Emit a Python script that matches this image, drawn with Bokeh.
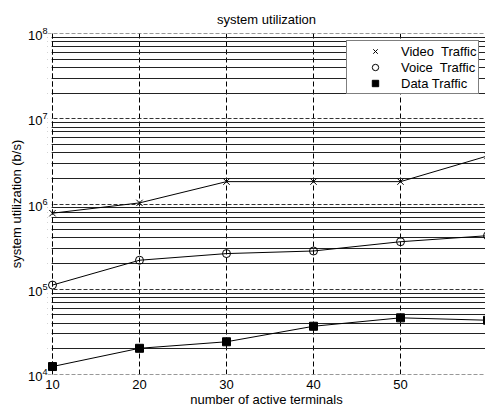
from bokeh.plotting import figure
from bokeh.models import (Range1d, FixedTicker, Grid, Legend, LegendItem, Label,
                          BoxAnnotation, Span)
from bokeh.embed import file_html
from bokeh.resources import INLINE

# ---- data ----
terminals = [10, 20, 30, 40, 50, 60]
video_traffic = [7.8e5, 1.03e6, 1.83e6, 1.83e6, 1.83e6, 3.66e6]
voice_traffic = [1.12e5, 2.19e5, 2.62e5, 2.81e5, 3.61e5, 4.25e5]
data_traffic = [1.24e4, 2.03e4, 2.42e4, 3.68e4, 4.62e4, 4.33e4]

x_ticks = [10, 20, 30, 40, 50, 60]
y_decades = [1e4, 1e5, 1e6, 1e7, 1e8]
y_minor = [m * 10 ** e for e in range(4, 8) for m in range(2, 10)]

FONT = "'Liberation Sans', Arial, Helvetica, sans-serif"
FS = "13px"

X_START = 10 - 5 / 8.7   # small margin left of x=10 so edge markers are not cut
X_END = 10 + 433 / 8.7

p = figure(width=485, height=409, output_backend="svg", toolbar_location=None,
           y_axis_type="log", x_range=Range1d(X_START, X_END),
           y_range=Range1d(y_decades[0], y_decades[-1]),
           min_border_left=47, min_border_right=0, min_border_top=33, min_border_bottom=35,
           title="system utilization")
p.outline_line_color = None
p.background_fill_color = "white"
p.border_fill_color = "white"

p.title.align = "center"
p.title.text_font = FONT
p.title.text_font_size = FS
p.title.text_font_style = "normal"
p.title.text_color = "black"
p.title.standoff = 14
p.title.offset = 2

for ax in (p.xaxis, p.yaxis):
    ax.axis_line_color = None
    ax.major_tick_line_color = None
    ax.minor_tick_line_color = None
    ax.major_tick_out = 0
    ax.major_tick_in = 0
    ax.major_label_text_font = FONT
    ax.major_label_text_font_size = FS
    ax.major_label_text_color = "black"
    ax.axis_label_text_font = FONT
    ax.axis_label_text_font_size = FS
    ax.axis_label_text_font_style = "normal"
    ax.axis_label_text_color = "black"

p.xaxis.ticker = FixedTicker(ticks=x_ticks)
p.yaxis.ticker = FixedTicker(ticks=y_decades)
p.xaxis.major_label_standoff = 5
p.yaxis.major_label_standoff = 0
p.xaxis.axis_label = "number of active terminals"
p.yaxis.axis_label = "system utilization (b/s)"
p.xaxis.axis_label_standoff = 0
p.yaxis.axis_label_standoff = 1

# major dashed grid
p.xgrid.grid_line_color = "black"
p.xgrid.grid_line_dash = "5 3"
p.xgrid.grid_line_width = 1
p.ygrid.grid_line_color = "#333333"
p.ygrid.grid_line_dash = "4 2"
p.ygrid.grid_line_width = 1

# minor solid horizontal grid
minor_grid = Grid(dimension=1, ticker=FixedTicker(ticks=y_minor),
                  grid_line_color="#222222", grid_line_width=1)
p.add_layout(minor_grid)

# dashed grid lines on the edges of the box
for yv in (y_decades[0], y_decades[-1]):
    p.add_layout(Span(location=yv, dimension="width", line_color="#333333",
                      line_dash="4 2", line_width=1, level="underlay"))
p.add_layout(Span(location=x_ticks[0], dimension="height", line_color="black",
                  line_dash="5 3", line_width=1, level="underlay"))

# blank strip left of x=10 (grid starts at the first tick, as in the reference)
p.add_layout(BoxAnnotation(right=x_ticks[0] - 0.1, fill_color="white", fill_alpha=1.0,
                           line_color=None, level="underlay"))

# series
p.line(terminals, video_traffic, line_color="black", line_width=1)
r_video = p.scatter(terminals, video_traffic, marker="x", size=9,
                    line_color="black", line_width=1)
p.line(terminals, voice_traffic, line_color="black", line_width=1)
r_voice = p.scatter(terminals, voice_traffic, marker="circle", size=8,
                    line_color="black", fill_color=None, line_width=1)
p.line(terminals, data_traffic, line_color="black", line_width=1)
r_data = p.scatter(terminals, data_traffic, marker="square", size=8,
                   line_color="black", fill_color="black")

legend = Legend(items=[
    LegendItem(label="Video  Traffic", renderers=[r_video]),
    LegendItem(label="Voice  Traffic", renderers=[r_voice]),
    LegendItem(label="Data Traffic", renderers=[r_data]),
], location=(299, 280), margin=0, padding=2, spacing=0,
    glyph_width=52, glyph_height=16, label_height=16, label_standoff=-2,
    label_text_font=FONT, label_text_font_size=FS, label_text_color="black",
    border_line_color="black", border_line_width=1,
    background_fill_color="white", background_fill_alpha=1.0)
p.add_layout(legend)

# the last x tick label lies at the clipped right edge
p.add_layout(Label(x=x_ticks[-1], y=-5, y_units="screen", text=str(x_ticks[-1]),
                   text_align="center", text_baseline="top",
                   text_font=FONT, text_font_size=FS, text_color="black"))

open("out.html", "w").write(file_html(p, INLINE))
